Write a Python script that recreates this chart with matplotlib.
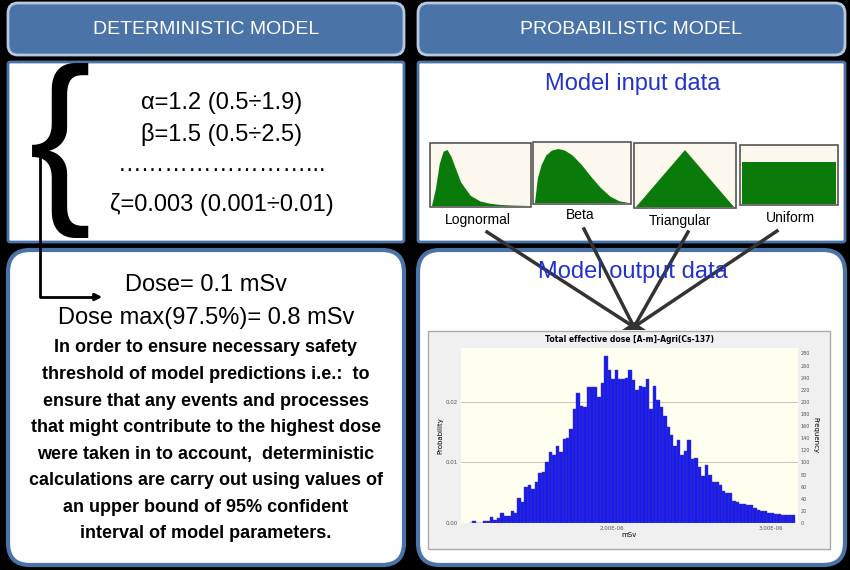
import matplotlib.pyplot as plt
from matplotlib.patches import FancyBboxPatch, Rectangle, Polygon
import numpy as np

# histogram frequencies
freq = [0, 3, 0, 0, 3, 3, 10, 5, 8, 17, 11, 11, 19, 17, 42, 35, 60, 62, 56, 67, 83, 84,
        100, 117, 113, 127, 117, 138, 140, 156, 188, 214, 194, 191, 225, 224, 225, 208,
        232, 275, 253, 237, 252, 237, 238, 240, 252, 236, 219, 227, 224, 237, 189, 226,
        203, 191, 177, 158, 146, 127, 137, 113, 119, 137, 106, 107, 92, 78, 96, 79, 68,
        68, 62, 53, 49, 50, 37, 34, 31, 31, 30, 29, 24, 22, 20, 19, 17, 16, 15, 15, 14,
        13, 14, 13]
total = 10000
dist_names = ["Lognormal", "Beta", "Triangular", "Uniform"]
# shape outlines (x 0..1, y 0..1) read from the thumbnails
lognormal_x = [0, 0.04, 0.08, 0.12, 0.16, 0.2, 0.25, 0.3, 0.4, 0.5, 0.6, 0.7, 0.8, 1.0]
lognormal_y = [0, 0.3, 0.75, 0.97, 1.0, 0.88, 0.65, 0.42, 0.18, 0.08, 0.04, 0.02, 0.01, 0]
beta_x = [0, 0.03, 0.07, 0.12, 0.18, 0.25, 0.32, 0.4, 0.5, 0.6, 0.7, 0.8, 0.9, 1.0]
beta_y = [0, 0.45, 0.7, 0.88, 0.97, 1.0, 0.97, 0.88, 0.7, 0.48, 0.28, 0.12, 0.03, 0]
tri_x = [0, 0.5, 1.0]
tri_y = [0, 1.0, 0]
uni_x = [0, 0, 1, 1]
uni_y = [0, 0.8, 0.8, 0]

fig = plt.figure(figsize=(8.5, 5.7), dpi=100)
fig.patch.set_facecolor("black")
ax = fig.add_axes([0, 0, 1, 1])
ax.set_xlim(0, 850)
ax.set_ylim(570, 0)
ax.axis("off")

def box(x0, y0, x1, y1, fc, ec, r=8, lw=2):
    ax.add_patch(FancyBboxPatch((x0, y0), x1 - x0, y1 - y0,
                                boxstyle="round,pad=0,rounding_size=%d" % r,
                                fc=fc, ec=ec, lw=lw))

hdr = "#4a74a8"
box(8, 3, 404, 55, hdr, "#b8c8e0", r=10)
box(418, 3, 845, 55, hdr, "#b8c8e0", r=10)
ax.text(206, 30, "DETERMINISTIC MODEL", color="white", fontsize=14, ha="center", va="center",
        family="Liberation Sans")
ax.text(631, 30, "PROBABILISTIC MODEL", color="white", fontsize=14, ha="center", va="center",
        family="Liberation Sans")

box(8, 62, 404, 242, "white", "#4a74a8", r=2)
box(418, 62, 845, 242, "white", "#4a74a8", r=2)
box(8, 250, 404, 565, "white", "#4a74a8", r=22, lw=3)
box(418, 250, 845, 565, "white", "#4a74a8", r=22, lw=3)

# deterministic parameters
for y, s in [(103, "α=1.2 (0.5÷1.9)"), (135, "β=1.5 (0.5÷2.5)"),
             (165, "……………………..."), (205, "ζ=0.003 (0.001÷0.01)")]:
    ax.text(222, y, s, fontsize=17, ha="center", va="center", family="Liberation Sans")
ax.text(60, 150, "{", fontsize=135, ha="center", va="center", color="black",
        family="Liberation Sans")
ax.plot([40, 40, 95], [152, 297, 297], color="black", lw=2)
ax.annotate("", xy=(105, 297), xytext=(90, 297),
            arrowprops=dict(arrowstyle="-|>", color="black", lw=2))

ax.text(206, 285, "Dose= 0.1 mSv", fontsize=17, ha="center", va="center", family="Liberation Sans")
ax.text(206, 318, "Dose max(97.5%)= 0.8 mSv", fontsize=17, ha="center", va="center", family="Liberation Sans")
body = ["In order to ensure necessary safety", "threshold of model predictions i.e.:  to",
        "ensure that any events and processes", "that might contribute to the highest dose",
        "were taken in to account,  deterministic", "calculations are carry out using values of",
        "an upper bound of 95% confident", "interval of model parameters."]
for i, s in enumerate(body):
    ax.text(206, 348 + i * 26.5, s, fontsize=13, ha="center", va="center",
            family="Liberation Sans", fontweight="bold")

# probabilistic side
ax.text(633, 84, "Model input data", fontsize=17, ha="center", va="center",
        color="#2233cc", family="Liberation Sans")
ax.text(633, 272, "Model output data", fontsize=17, ha="center", va="center",
        color="#2233cc", family="Liberation Sans")

thumbs = [(430, 143, 101, 64), (533, 142, 98, 62), (634, 143, 102, 65), (740, 145, 98, 60)]
shapes = [(lognormal_x, lognormal_y), (beta_x, beta_y), (tri_x, tri_y), (uni_x, uni_y)]
for (x0, y0, w, h), (sx, sy), name in zip(thumbs, shapes, dist_names):
    ax.add_patch(Rectangle((x0, y0), w, h, fc="#fdf8ee", ec="#555555", lw=1.2))
    pts = [(x0 + 2 + xx * (w - 4), y0 + h - 1 - yy * (h - 8)) for xx, yy in zip(sx, sy)]
    pts = [(x0 + 2, y0 + h - 1)] + pts + [(x0 + w - 2, y0 + h - 1)]
    ax.add_patch(Polygon(pts, closed=True, fc="#0a7a0a", ec="none"))
label_pos = [(478, 220), (580, 215), (680, 221), (790, 218)]
for (lx, ly), name in zip(label_pos, dist_names):
    ax.text(lx, ly, name, fontsize=10, ha="center", va="center", family="Liberation Sans")
for sx0, sy0 in [(487, 232), (584, 229), (688, 232), (777, 231)]:
    ax.plot([sx0, 634], [sy0, 327], color="#333333", lw=2.5)
ax.add_patch(Polygon([(622, 330), (646, 330), (634, 322)], fc="#333333", ec="none"))

# inset histogram
ax.add_patch(Rectangle((428, 331), 402, 218, fc="#f0f0f0", ec="#aaaaaa", lw=1))
ax.text(630, 339, "Total effective dose [A-m]-Agri(Cs-137)", fontsize=5.5,
        ha="center", va="center", fontweight="bold")
hax = fig.add_axes([461 / 850, 1 - 523 / 570, 337 / 850, 175 / 570])
hax.set_facecolor("#fffff0")
edges = np.linspace(1.1e-6, 3.15e-6, len(freq) + 1)
prob = np.array(freq) / total
hax.bar(edges[:-1], prob, width=edges[1] - edges[0], align="edge",
        color="#1a1aee", edgecolor="#4040aa", linewidth=0.3)
hax.set_xlim(edges[0] - 0.05e-6, edges[-1] + 0.02e-6)
hax.set_ylim(0, 0.0289)
hax.set_yticks([0, 0.01, 0.02])
hax.set_yticklabels(["0.00", "0.01", "0.02"])
hax.set_xticks([2e-6, 3e-6])
hax.set_xticklabels(["2.00E-06", "3.00E-06"])
hax.grid(axis="y", color="#bbbbaa", lw=0.6)
hax.set_axisbelow(True)
hax.tick_params(labelsize=4, length=0, pad=2, colors="#555555")
hax.set_xlabel("mSv", fontsize=5, labelpad=1)
hax.set_ylabel("Probability", fontsize=5, labelpad=2)
for s in hax.spines.values():
    s.set_visible(False)
tax = hax.twinx()
tax.set_ylim(0, 0.0289 * total)
tax.set_yticks(range(0, 281, 20))
tax.tick_params(labelsize=3.5, length=0, pad=2, colors="#555555")
tax.set_ylabel("Frequency", fontsize=5, rotation=270, labelpad=6)
for s in tax.spines.values():
    s.set_visible(False)

fig.savefig("out.png", dpi=100, facecolor="black")
